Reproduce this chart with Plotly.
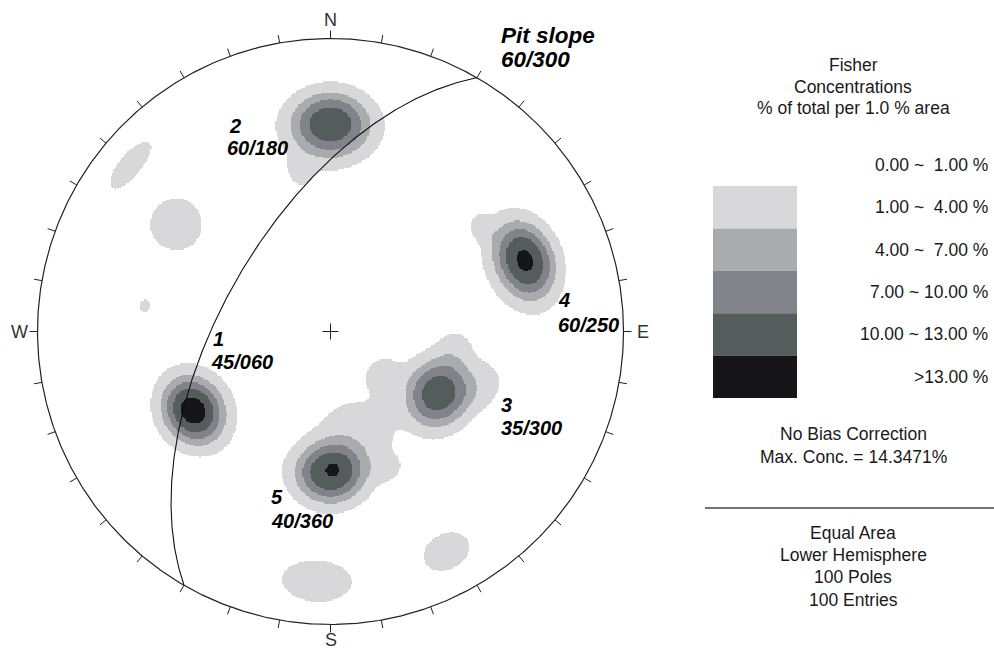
import numpy as np
import plotly.graph_objects as go

# ---------------- data ----------------
# Discontinuity sets: dip / dip direction of the planes
set_names = ["1", "2", "3", "4", "5"]
set_dip = [45, 60, 35, 60, 40]
set_dipdir = [60, 180, 300, 250, 360]
# pole concentration at each set centre (% of total per 1% area)
set_peak = [14.3471, 12.3, 12.0, 13.5, 12.8]
# angular spread of the pole clusters (degrees): along pole plunge / along pole trend
set_spread_dip = [8.6, 10.0, 8.8, 9.0, 8.6]
set_spread_strike = [8.6, 9.2, 8.8, 9.2, 8.8]

# Scattered poles outside the main sets (pole trend / plunge)
minor_trend = [309.7, 304.8, 277.8, 183.1, 152.2, 349.6, 130.4, 143.0, 166.0, 157.9, 109.7, 55.8, 99.4]
minor_plunge = [12.1, 36.0, 36.3, 15.5, 16.0, 43.3, 70.5, 64.0, 60.0, 48.3, 44.9, 37.2, 54.5]
minor_peak = [2.4, 2.6, 1.2, 2.6, 2.5, 2.0, 2.1, 1.8, 2.6, 1.9, 2.1, 1.8, 1.9]
minor_spread_dip = [4.1, 8.2, 3.0, 7.3, 6.4, 5.0, 5.4, 3.6, 9.5, 4.2, 6.2, 4.0, 5.5]
minor_spread_strike = [6.6, 6.5, 3.0, 7.8, 5.5, 3.5, 5.4, 3.6, 10.0, 4.2, 6.2, 4.0, 5.5]

# Pit slope plane
pit_dip = 60
pit_dipdir = 300

# Contour intervals and fills
levels = [0.0, 1.0, 4.0, 7.0, 10.0, 13.0]
fill_colors = ["#d8d8da", "#aaabaf", "#80838a", "#555c5c", "#161618"]

n_poles = 100
n_entries = 100
max_conc = 14.3471

# ---------------- page geometry ----------------
W, H = 994, 653
CX, CY, RP = 330.5, 331.5, 293.0   # net centre and radius in pixels


def pd(x, y):
    """pixel position -> data coordinates (net radius = 1)"""
    return (x - CX) / RP, (CY - y) / RP


def vec(trend, plunge):
    t, p = np.radians(trend), np.radians(plunge)
    return np.array([np.cos(p) * np.sin(t), np.cos(p) * np.cos(t), np.sin(p)])


def project(e, n, d):
    """equal-area lower-hemisphere projection of unit vectors"""
    d = np.abs(d)
    phi = np.arccos(np.clip(d, -1, 1))
    r = np.sqrt(2) * np.sin(phi / 2)
    h = np.hypot(e, n)
    h = np.where(h == 0, 1, h)
    return r * e / h, r * n / h


# ---------------- concentration grid ----------------
N = 460
xs = np.linspace(-1, 1, N)
ys = np.linspace(-1, 1, N)
X, Y = np.meshgrid(xs, ys)
R = np.hypot(X, Y)
inside = R <= 1.0
phi = 2 * np.arcsin(np.clip(R / np.sqrt(2), 0, 1))
plunge = np.pi / 2 - phi
trend = np.arctan2(X, Y)
U = np.stack([np.cos(plunge) * np.sin(trend), np.cos(plunge) * np.cos(trend), np.sin(plunge)])


def cluster(tr, pl, peak, s_dip, s_strike, p=2.6):
    m = vec(tr, pl)
    t, q = np.radians(tr), np.radians(pl)
    e1 = np.array([-np.sin(q) * np.sin(t), -np.sin(q) * np.cos(t), np.cos(q)])
    e2 = np.array([np.cos(t), -np.sin(t), 0.0])
    um = np.tensordot(m, U, axes=1)
    a = np.degrees(np.arctan2(np.tensordot(e1, U, axes=1), um))
    b = np.degrees(np.arctan2(np.tensordot(e2, U, axes=1), um))
    dist = np.sqrt((a / s_dip) ** 2 + (b / s_strike) ** 2)
    return np.where(um > 0, peak * np.exp(-dist ** p), 0.0)


conc = np.zeros_like(X)
for dip, dd, pk, sd, ss in zip(set_dip, set_dipdir, set_peak, set_spread_dip, set_spread_strike):
    conc += cluster((dd + 180) % 360, 90 - dip, pk, sd, ss)
for tr, pl, pk, sd, ss in zip(minor_trend, minor_plunge, minor_peak, minor_spread_dip, minor_spread_strike):
    conc += cluster(tr, pl, pk, sd, ss)

band = np.digitize(conc, levels[1:]).astype(float)   # 0 .. 5
band[band < 1] = np.nan
band[~inside] = np.nan

nb = len(fill_colors)
cscale = []
for i, c in enumerate(fill_colors):
    cscale.append([i / nb, c])
    cscale.append([(i + 1) / nb, c])

fig = go.Figure()
fig.add_trace(go.Heatmap(
    x=xs, y=ys, z=band, zmin=0.5, zmax=nb + 0.5, colorscale=cscale,
    showscale=False, hoverinfo="skip", zsmooth=False,
))

# primitive circle
th = np.linspace(0, 2 * np.pi, 721)
fig.add_trace(go.Scatter(x=np.cos(th), y=np.sin(th), mode="lines",
                         line=dict(color="#222", width=1.2), hoverinfo="skip"))

# 10 degree ticks outside the primitive
tick_len = 8 / RP
tx, ty = [], []
for az in range(0, 360, 10):
    a = np.radians(az)
    tx += [np.sin(a), (1 + tick_len) * np.sin(a), None]
    ty += [np.cos(a), (1 + tick_len) * np.cos(a), None]
fig.add_trace(go.Scatter(x=tx, y=ty, mode="lines",
                         line=dict(color="#222", width=1), hoverinfo="skip"))

# centre cross
c = 8 / RP
fig.add_trace(go.Scatter(x=[-c, c, None, 0, 0], y=[0, 0, None, -c, c], mode="lines",
                         line=dict(color="#222", width=1), hoverinfo="skip"))

# pit slope great circle
strike = np.radians(pit_dipdir - 90)
sv = np.array([np.sin(strike), np.cos(strike), 0.0])
dv = vec(pit_dipdir, pit_dip)
al = np.linspace(0, np.pi, 361)
pts = np.outer(np.cos(al), sv) + np.outer(np.sin(al), dv)
gx, gy = project(pts[:, 0], pts[:, 1], pts[:, 2])
fig.add_trace(go.Scatter(x=gx, y=gy, mode="lines",
                         line=dict(color="#111", width=1.1), hoverinfo="skip"))

ann = []


def text(x, y, s, size=17.5, anchor="center", bold=False, italic=False, color="#1a1a1a"):
    dx, dy = pd(x, y)
    f = dict(family="Liberation Sans, Arial, sans-serif", size=size, color=color)
    if bold:
        f["weight"] = "bold"
    if italic:
        f["style"] = "italic"
    ann.append(dict(x=dx, y=dy, xref="x", yref="y", text=s, showarrow=False,
                    xanchor=anchor, yanchor="middle", font=f))


# compass letters
for s, (x, y) in zip(["N", "E", "S", "W"], [(330, 20), (643, 332), (331, 640), (19, 332)]):
    text(x, y, s, size=18, color="#333")

# set labels
set_label_pos = [(211, 339, 209, 362), (227, 126, 225, 148), (499, 405, 499, 428),
                 (556, 300, 556, 325), (269, 497, 269, 521)]
for name, dip, dd, (x1, y1, x2, y2) in zip(set_names, set_dip, set_dipdir, set_label_pos):
    text(x1, y1, name, size=20, anchor="left", bold=True, italic=True, color="#000")
    text(x2, y2, f"{dip}/{dd:03d}", size=20, anchor="left", bold=True, italic=True, color="#000")

text(499, 35, "Pit slope", size=22.5, anchor="left", bold=True, italic=True, color="#000")
text(499, 59, f"{pit_dip}/{pit_dipdir:03d}", size=22.5, anchor="left", bold=True, italic=True, color="#000")

# legend panel
text(853, 65, "Fisher")
text(853, 87, "Concentrations")
text(853, 108, "% of total per 1.0 % area")

box_top, box_h = 186, 42.4
shapes = []
label_y = [164.5]
for i, col in enumerate(fill_colors):
    y0 = box_top + i * box_h
    x0d, y0d = pd(713, y0)
    x1d, y1d = pd(797, y0 + box_h)
    shapes.append(dict(type="rect", xref="x", yref="y", x0=x0d, x1=x1d, y0=y1d, y1=y0d,
                       fillcolor=col, line=dict(width=0), layer="above"))
    label_y.append(y0 + box_h / 2)

nbsp = "\u00a0"
for i in range(len(levels)):
    lo = levels[i]
    if i + 1 < len(levels):
        hi = f"{levels[i + 1]:.2f}"
        hi = nbsp * (5 - len(hi)) + hi
        s = f"{lo:.2f} ~{nbsp}{hi} %"
    else:
        s = f"&gt;{lo:.2f} %"
    text(990, label_y[i], s, anchor="right")

text(853, 434, "No Bias Correction")
text(853, 457, f"Max. Conc. = {max_conc:.4f}%")

x0d, yd = pd(705, 508)
x1d, _ = pd(994, 508)
shapes.append(dict(type="line", xref="x", yref="y", x0=x0d, x1=x1d, y0=yd, y1=yd,
                   line=dict(color="#444", width=1.5)))

text(853, 533, "Equal Area")
text(853, 555, "Lower Hemisphere")
text(853, 577, f"{n_poles} Poles")
text(853, 600, f"{n_entries} Entries")

fig.update_layout(
    width=W, height=H, margin=dict(l=0, r=0, t=0, b=0),
    paper_bgcolor="white", plot_bgcolor="white", showlegend=False,
    xaxis=dict(range=[-CX / RP, (W - CX) / RP], visible=False, fixedrange=True),
    yaxis=dict(range=[-(H - CY) / RP, CY / RP], visible=False, fixedrange=True),
    annotations=ann, shapes=shapes,
)

fig.write_html("out.html")
